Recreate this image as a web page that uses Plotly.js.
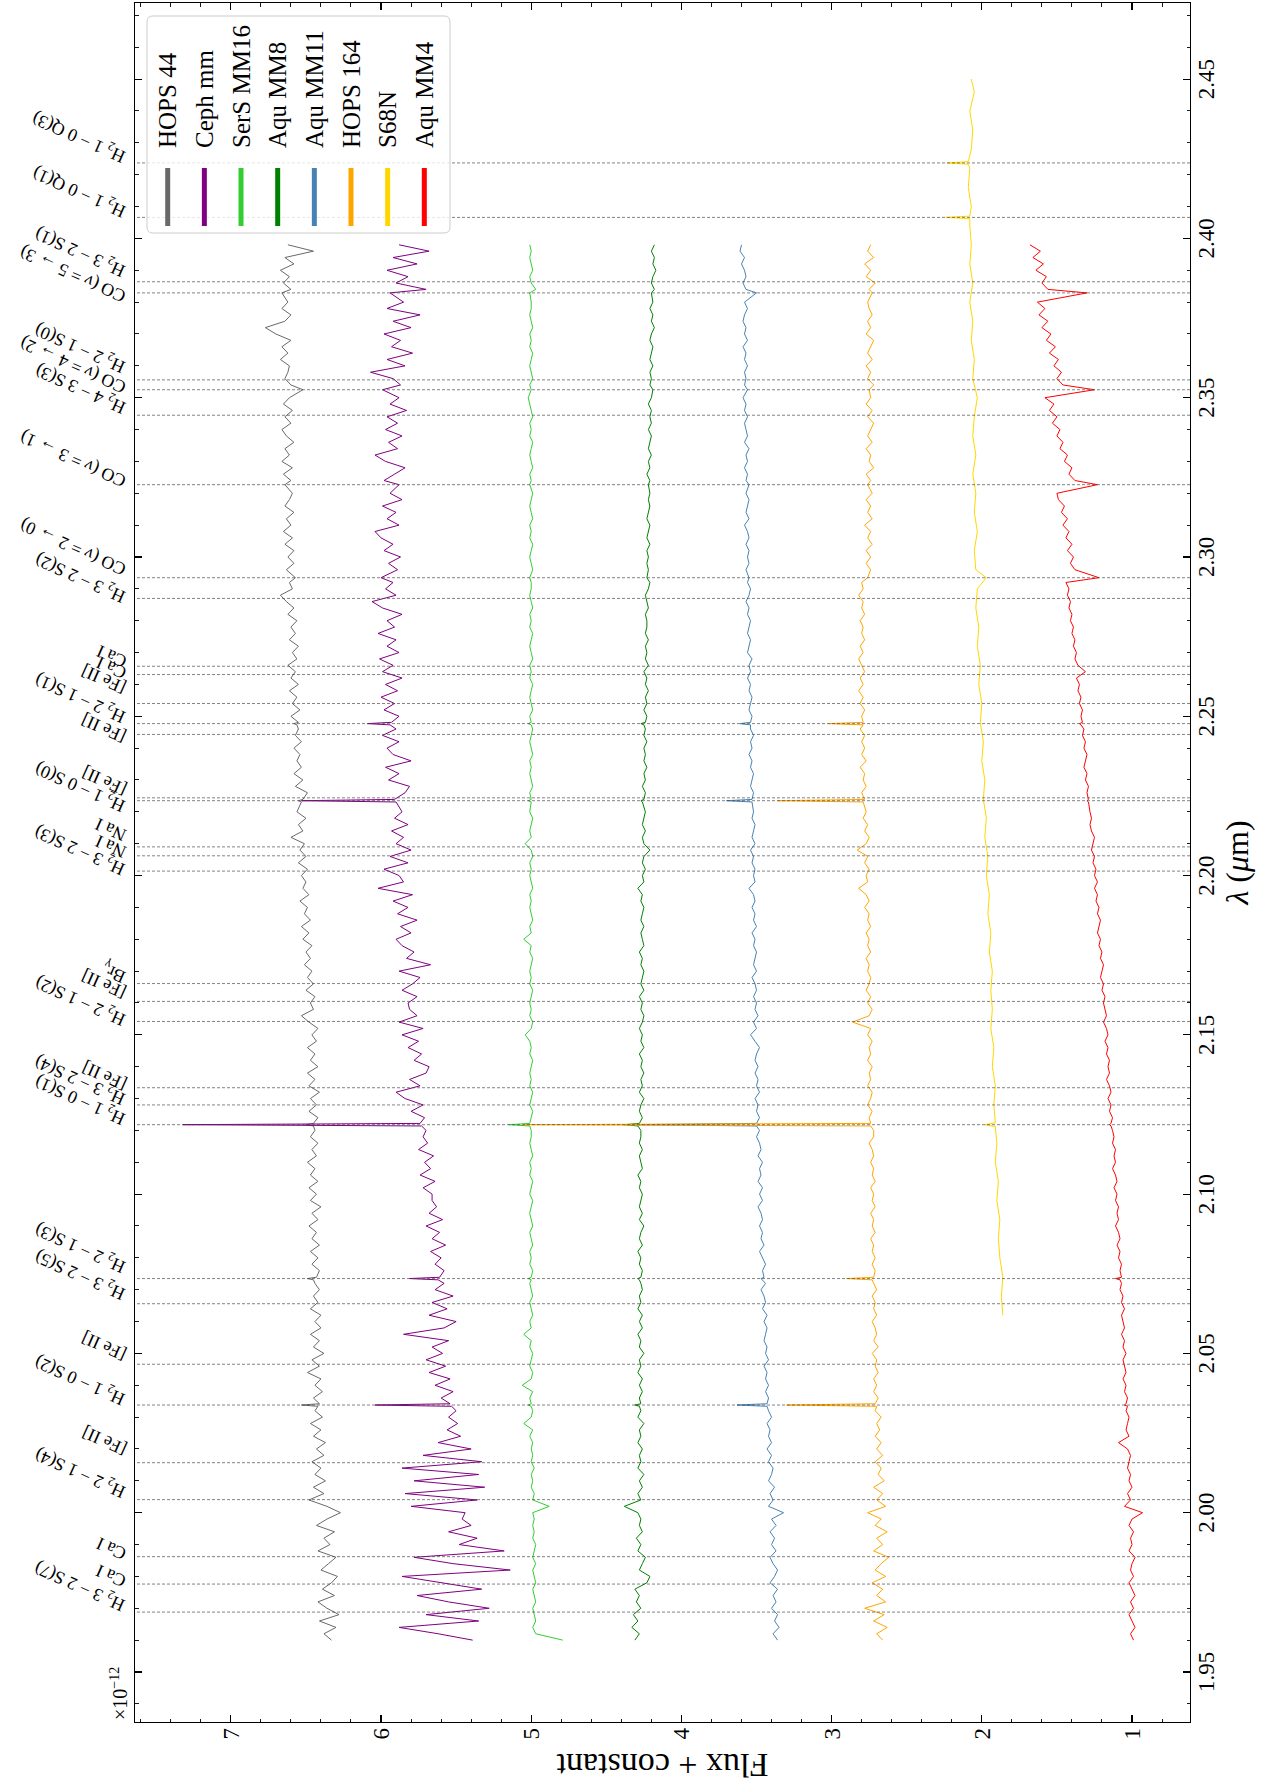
<!DOCTYPE html>
<html><head><meta charset="utf-8">
<script src="https://cdn.plot.ly/plotly-3.0.1.min.js"></script>
<style>
html,body{margin:0;padding:0;width:1271px;height:1784px;overflow:hidden;background:#fff;}
#wrap{position:absolute;left:0;top:0;width:1784px;height:1271px;transform-origin:0 0;transform:translateY(1784px) rotate(-90deg);}
#chart{width:1784px;height:1271px;}
</style></head><body>
<div id="wrap"><div id="chart"></div></div>
<script>
// ---- wavelength grid (micron) shared by seven spectra ----
const waveFine = [
 1.960,1.962,1.964,1.966,1.968,1.970,1.972,1.974,1.976,1.978,
 1.980,1.982,1.984,1.986,1.988,1.990,1.992,1.994,1.996,1.998,
 2.000,2.002,2.004,2.006,2.008,2.010,2.012,2.014,2.016,2.018,
 2.020,2.022,2.024,2.026,2.028,2.030,2.032,2.0334,2.0338,2.0342,2.036,2.038,
 2.040,2.042,2.044,2.046,2.048,2.050,2.052,2.054,2.056,2.058,
 2.060,2.062,2.064,2.066,2.068,2.070,2.072,2.0731,2.0735,2.0739,2.076,2.078,
 2.080,2.082,2.084,2.086,2.088,2.090,2.092,2.094,2.096,2.098,
 2.100,2.102,2.104,2.106,2.108,2.110,2.112,2.114,2.116,2.118,
 2.120,2.1214,2.1218,2.1222,2.124,2.126,2.128,2.130,2.132,2.134,2.136,2.138,
 2.140,2.142,2.144,2.146,2.148,2.150,2.152,2.154,2.156,2.158,
 2.160,2.162,2.164,2.166,2.168,2.170,2.172,2.174,2.176,2.178,
 2.180,2.182,2.184,2.186,2.188,2.190,2.192,2.194,2.196,2.198,
 2.200,2.202,2.204,2.206,2.208,2.210,2.212,2.214,2.216,2.218,
 2.220,2.2231,2.2235,2.2239,2.226,2.228,2.230,2.232,2.234,2.236,2.238,
 2.240,2.242,2.244,2.246,2.2473,2.2477,2.2481,2.250,2.252,2.254,2.256,2.258,
 2.260,2.262,2.264,2.266,2.268,2.270,2.272,2.274,2.276,2.278,
 2.280,2.282,2.284,2.286,2.288,2.290,2.292,2.2935,2.296,2.298,
 2.300,2.302,2.304,2.306,2.308,2.310,2.312,2.314,2.316,2.318,
 2.320,2.3227,2.324,2.326,2.328,2.330,2.332,2.334,2.336,2.338,
 2.340,2.342,2.344,2.346,2.348,2.350,2.3525,2.354,2.356,2.358,
 2.360,2.362,2.364,2.366,2.368,2.370,2.372,2.374,2.376,2.378,
 2.380,2.3829,2.384,2.386,2.388,2.390,2.392,2.394,2.396,2.398
];
const fluxHops44 = [
 6.33,6.38,6.30,6.41,6.28,6.36,6.42,6.31,6.39,6.33,
 6.29,6.40,6.35,6.30,6.42,6.34,6.38,6.31,6.43,6.36,
 6.27,6.36,6.48,6.38,6.45,6.37,6.44,6.40,6.46,6.38,
 6.43,6.37,6.45,6.40,6.47,6.39,6.44,6.42,6.53,6.41,6.45,6.39,
 6.44,6.40,6.49,6.41,6.46,6.38,6.45,6.41,6.47,6.40,
 6.44,6.40,6.47,6.42,6.45,6.41,6.44,6.45,6.49,6.43,6.41,6.46,
 6.42,6.47,6.41,6.46,6.43,6.48,6.42,6.46,6.40,6.47,
 6.43,6.48,6.42,6.47,6.44,6.49,6.43,6.46,6.42,6.47,
 6.44,6.45,6.50,6.45,6.42,6.48,6.43,6.47,6.41,6.48,6.44,6.49,
 6.42,6.47,6.44,6.49,6.43,6.46,6.42,6.48,6.53,6.45,
 6.47,6.44,6.50,6.45,6.49,6.46,6.51,6.47,6.50,6.46,
 6.52,6.48,6.53,6.47,6.51,6.49,6.54,6.48,6.52,6.50,
 6.53,6.49,6.55,6.50,6.54,6.51,6.60,6.52,6.55,6.50,
 6.56,6.53,6.55,6.52,6.49,6.57,6.52,6.58,6.53,6.56,6.54,
 6.58,6.53,6.57,6.55,6.56,6.58,6.55,6.60,6.54,6.59,6.56,6.61,
 6.55,6.60,6.57,6.62,6.56,6.59,6.55,6.61,6.57,6.60,
 6.56,6.62,6.58,6.63,6.67,6.59,6.61,6.57,6.63,6.58,
 6.62,6.58,6.64,6.59,6.65,6.60,6.63,6.58,6.64,6.61,
 6.59,6.64,6.60,6.65,6.59,6.66,6.61,6.64,6.58,6.63,
 6.66,6.60,6.64,6.59,6.65,6.61,6.52,6.60,6.64,6.62,
 6.61,6.67,6.62,6.66,6.60,6.70,6.77,6.64,6.60,6.66,
 6.62,6.66,6.60,6.65,6.61,6.67,6.58,6.64,6.45,6.62
];
const fluxCephMM = [
 5.39,5.62,5.88,5.35,5.70,5.28,5.55,5.76,5.33,5.60,
 5.86,5.14,5.52,5.78,5.18,5.48,5.36,5.55,5.40,5.46,
 5.44,5.80,5.36,5.84,5.31,5.78,5.35,5.86,5.33,5.72,
 5.40,5.62,5.47,5.56,5.49,5.55,5.50,5.53,6.04,5.54,5.60,5.52,
 5.64,5.54,5.68,5.57,5.70,5.59,5.66,5.55,5.85,5.58,
 5.50,5.68,5.56,5.66,5.52,5.64,5.58,5.62,5.81,5.61,5.58,5.64,
 5.60,5.67,5.57,5.66,5.61,5.70,5.59,5.68,5.63,5.66,
 5.66,5.72,5.64,5.74,5.67,5.71,5.65,5.75,5.69,5.72,
 5.70,5.73,7.32,5.74,5.71,5.80,5.72,5.84,5.90,5.74,5.81,5.70,
 5.68,5.78,5.73,5.82,5.75,5.86,5.72,5.88,5.76,5.81,
 5.82,5.76,5.86,5.79,5.74,5.88,5.67,5.83,5.78,5.86,
 5.90,5.80,5.87,5.76,5.89,5.82,5.92,5.79,6.02,5.85,
 5.88,5.98,5.82,5.94,5.80,5.90,5.85,5.93,5.82,5.91,
 5.86,5.90,6.53,5.91,5.84,5.81,5.95,5.88,5.97,5.80,5.92,
 5.96,5.88,5.99,5.90,5.94,6.09,5.93,5.88,5.98,5.91,6.00,5.89,
 5.97,5.86,5.99,5.92,6.01,5.88,5.96,5.90,6.02,5.91,
 5.96,5.86,5.99,6.06,5.90,5.97,5.92,6.00,5.89,5.95,
 5.87,5.98,5.92,6.00,6.04,5.88,5.96,5.90,5.99,5.86,
 5.94,5.88,5.98,5.91,5.84,5.97,6.04,5.89,5.95,5.86,
 5.97,5.89,5.96,5.83,5.94,5.88,5.99,5.87,5.92,6.07,
 5.84,5.96,5.79,5.93,5.87,5.98,5.80,5.92,5.74,5.96,
 5.85,5.94,5.70,5.90,5.82,5.96,5.76,5.92,5.68,5.88
];
const fluxSerSMM16 = [
 4.79,4.97,4.99,4.97,4.98,4.99,4.97,4.98,4.99,4.97,
 4.98,4.99,4.97,4.99,4.98,4.97,4.99,4.98,4.99,4.98,
 4.99,4.88,4.99,4.98,5.00,4.99,5.00,4.98,5.00,4.99,
 5.00,4.99,5.01,4.99,5.05,5.00,4.99,5.00,5.02,5.00,5.01,4.99,
 5.06,5.00,4.99,5.01,5.00,4.99,5.01,5.00,5.05,5.00,
 5.01,4.99,5.00,5.01,4.99,5.00,5.01,5.00,5.02,5.00,4.99,5.01,
 5.00,5.01,4.99,5.00,5.01,4.99,5.00,5.01,5.00,4.99,
 5.01,5.00,4.99,5.01,5.00,5.01,4.99,5.00,5.01,5.00,
 5.00,5.01,5.15,5.01,5.00,4.99,5.01,5.00,4.99,5.01,5.00,5.01,
 5.00,4.99,5.01,5.00,5.01,5.04,5.00,4.99,5.01,5.00,
 5.01,5.00,4.99,5.01,5.00,5.01,5.00,4.99,5.01,5.00,
 5.05,5.00,5.01,4.99,5.00,5.01,5.00,5.01,4.99,5.00,
 5.01,5.00,5.01,4.99,5.00,5.04,5.00,5.01,5.00,4.99,
 5.01,5.00,5.02,5.00,5.01,4.99,5.00,5.01,5.00,5.01,4.99,
 5.00,5.01,5.00,4.99,5.00,5.02,5.00,5.01,4.99,5.00,5.01,5.00,
 4.99,5.01,5.00,5.01,4.99,5.00,5.01,5.00,4.99,5.01,
 5.00,5.01,4.99,5.00,5.01,5.00,5.00,5.01,4.99,5.00,
 5.01,5.00,4.99,5.01,5.00,5.01,4.99,5.00,5.01,5.00,
 4.99,5.01,5.00,5.01,4.99,5.00,5.01,5.00,4.99,5.01,
 5.00,5.01,4.99,5.00,5.01,5.02,5.00,5.01,4.99,5.00,
 5.01,5.00,4.99,5.01,5.00,5.01,4.99,5.00,5.01,5.00,
 5.00,5.01,4.97,5.00,5.01,4.99,5.00,5.01,5.00,5.01
];
const fluxAquMM8 = [
 4.31,4.28,4.33,4.29,4.32,4.27,4.30,4.28,4.31,4.23,
 4.21,4.28,4.26,4.24,4.29,4.27,4.30,4.26,4.28,4.27,
 4.29,4.38,4.27,4.29,4.26,4.28,4.25,4.29,4.27,4.28,
 4.26,4.29,4.27,4.28,4.25,4.29,4.27,4.28,4.31,4.27,4.28,4.26,
 4.28,4.26,4.29,4.27,4.28,4.25,4.28,4.27,4.29,4.26,
 4.28,4.26,4.29,4.27,4.28,4.26,4.27,4.28,4.29,4.27,4.26,4.28,
 4.27,4.29,4.26,4.28,4.27,4.25,4.28,4.26,4.28,4.27,
 4.26,4.28,4.27,4.29,4.26,4.27,4.28,4.26,4.28,4.27,
 4.27,4.29,4.38,4.28,4.26,4.28,4.27,4.25,4.28,4.26,4.27,4.25,
 4.27,4.26,4.28,4.25,4.27,4.26,4.28,4.26,4.25,4.27,
 4.26,4.28,4.25,4.27,4.26,4.25,4.27,4.26,4.28,4.25,
 4.26,4.27,4.25,4.27,4.26,4.25,4.27,4.26,4.29,4.25,
 4.26,4.24,4.26,4.25,4.21,4.25,4.26,4.24,4.26,4.25,
 4.24,4.26,4.27,4.25,4.24,4.26,4.24,4.25,4.23,4.25,4.24,
 4.25,4.23,4.25,4.24,4.25,4.27,4.24,4.23,4.25,4.23,4.24,4.22,
 4.24,4.23,4.25,4.22,4.24,4.23,4.24,4.22,4.24,4.23,
 4.23,4.24,4.22,4.23,4.24,4.22,4.21,4.23,4.22,4.23,
 4.22,4.23,4.21,4.23,4.22,4.21,4.23,4.22,4.21,4.22,
 4.21,4.22,4.21,4.23,4.21,4.22,4.20,4.22,4.21,4.20,
 4.22,4.20,4.21,4.20,4.22,4.20,4.19,4.21,4.20,4.21,
 4.19,4.21,4.20,4.19,4.21,4.20,4.18,4.20,4.19,4.21,
 4.19,4.20,4.18,4.20,4.19,4.17,4.19,4.18,4.20,4.18
];
const fluxAquMM11 = [
 3.36,3.39,3.35,3.38,3.36,3.40,3.37,3.39,3.36,3.41,
 3.38,3.36,3.39,3.41,3.37,3.40,3.38,3.41,3.37,3.40,
 3.32,3.42,3.39,3.41,3.38,3.42,3.40,3.39,3.42,3.40,
 3.43,3.40,3.42,3.41,3.43,3.40,3.42,3.43,3.63,3.43,3.42,3.44,
 3.42,3.44,3.43,3.45,3.42,3.44,3.43,3.45,3.44,3.43,
 3.45,3.43,3.46,3.44,3.45,3.47,3.44,3.46,3.47,3.45,3.46,3.44,
 3.46,3.48,3.45,3.47,3.46,3.48,3.46,3.47,3.49,3.46,
 3.48,3.46,3.49,3.47,3.48,3.46,3.49,3.47,3.48,3.50,
 3.48,3.50,4.30,3.50,3.48,3.50,3.49,3.51,3.48,3.50,3.49,3.51,
 3.49,3.51,3.50,3.48,3.51,3.54,3.50,3.52,3.49,3.51,
 3.50,3.52,3.50,3.51,3.53,3.50,3.52,3.51,3.50,3.52,
 3.51,3.53,3.50,3.52,3.51,3.53,3.51,3.52,3.55,3.51,
 3.52,3.51,3.53,3.52,3.54,3.51,3.53,3.52,3.51,3.53,
 3.52,3.53,3.70,3.53,3.52,3.54,3.53,3.52,3.54,3.53,3.55,
 3.53,3.54,3.52,3.54,3.54,3.61,3.54,3.53,3.55,3.54,3.53,3.55,
 3.54,3.56,3.54,3.55,3.53,3.56,3.55,3.54,3.56,3.55,
 3.54,3.56,3.55,3.57,3.55,3.54,3.56,3.55,3.57,3.55,
 3.56,3.55,3.57,3.55,3.56,3.58,3.55,3.57,3.56,3.55,
 3.57,3.55,3.57,3.56,3.58,3.56,3.57,3.55,3.58,3.56,
 3.57,3.58,3.56,3.58,3.57,3.59,3.56,3.58,3.57,3.58,
 3.56,3.58,3.57,3.59,3.56,3.58,3.57,3.59,3.58,3.56,
 3.58,3.50,3.57,3.59,3.57,3.58,3.60,3.58,3.61,3.60
];
const fluxHops164 = [
 2.66,2.70,2.63,2.72,2.65,2.78,2.64,2.70,2.66,2.73,
 2.64,2.71,2.67,2.62,2.72,2.66,2.70,2.63,2.71,2.67,
 2.76,2.64,2.70,2.66,2.72,2.65,2.69,2.67,2.71,2.66,
 2.70,2.67,2.71,2.68,2.70,2.67,2.71,2.70,3.30,2.71,2.69,2.72,
 2.70,2.72,2.69,2.71,2.70,2.73,2.69,2.72,2.70,2.71,
 2.73,2.70,2.72,2.71,2.73,2.70,2.72,2.73,2.90,2.72,2.71,2.73,
 2.71,2.73,2.72,2.74,2.71,2.73,2.72,2.74,2.71,2.73,
 2.72,2.74,2.71,2.73,2.72,2.74,2.72,2.73,2.75,2.72,
 2.72,2.74,5.05,2.74,2.75,2.73,2.76,2.74,2.73,2.76,2.74,2.75,
 2.73,2.76,2.74,2.75,2.73,2.76,2.74,2.86,2.75,2.73,
 2.76,2.74,2.77,2.75,2.74,2.76,2.75,2.77,2.74,2.76,
 2.75,2.77,2.74,2.76,2.75,2.78,2.75,2.77,2.82,2.76,
 2.77,2.75,2.78,2.76,2.83,2.77,2.75,2.78,2.76,2.79,
 2.77,2.79,3.36,2.78,2.80,2.77,2.79,2.78,2.81,2.77,2.80,
 2.78,2.80,2.78,2.81,2.79,3.02,2.79,2.80,2.78,2.81,2.79,2.82,
 2.79,2.81,2.78,2.80,2.82,2.79,2.81,2.78,2.80,2.79,
 2.81,2.78,2.80,2.79,2.82,2.79,2.80,2.76,2.74,2.77,
 2.74,2.77,2.73,2.76,2.74,2.78,2.73,2.76,2.74,2.77,
 2.73,2.76,2.74,2.77,2.72,2.75,2.74,2.77,2.73,2.76,
 2.74,2.72,2.76,2.73,2.77,2.74,2.75,2.72,2.76,2.74,
 2.77,2.73,2.76,2.74,2.72,2.77,2.74,2.76,2.73,2.75,
 2.76,2.73,2.75,2.71,2.77,2.74,2.78,2.72,2.76,2.74
];
const fluxAquMM4 = [
 0.99,1.01,0.98,1.00,1.02,0.99,1.01,0.98,1.00,1.02,
 0.99,1.01,1.00,0.98,1.02,1.00,1.01,0.99,1.02,1.00,
 0.93,1.05,1.01,1.03,1.00,1.02,1.01,1.03,1.02,1.01,
 1.03,1.09,1.02,1.04,1.03,1.02,1.04,1.03,1.05,1.04,1.03,1.05,
 1.04,1.06,1.04,1.05,1.06,1.04,1.06,1.05,1.07,1.05,
 1.06,1.07,1.05,1.07,1.06,1.08,1.07,1.08,1.11,1.07,1.08,1.07,
 1.09,1.08,1.10,1.08,1.09,1.11,1.09,1.10,1.09,1.11,
 1.10,1.12,1.10,1.11,1.13,1.11,1.12,1.11,1.13,1.12,
 1.13,1.14,1.15,1.14,1.13,1.15,1.14,1.16,1.14,1.15,1.17,1.15,
 1.16,1.15,1.17,1.16,1.18,1.16,1.17,1.19,1.17,1.18,
 1.19,1.18,1.20,1.19,1.21,1.20,1.19,1.21,1.20,1.22,
 1.21,1.23,1.22,1.21,1.23,1.22,1.24,1.23,1.25,1.23,
 1.25,1.24,1.26,1.25,1.27,1.26,1.25,1.27,1.28,1.27,
 1.28,1.29,1.30,1.29,1.30,1.29,1.31,1.30,1.32,1.31,1.30,
 1.32,1.31,1.33,1.32,1.34,1.35,1.33,1.34,1.33,1.35,1.34,1.36,
 1.35,1.37,1.31,1.36,1.38,1.37,1.39,1.38,1.40,1.39,
 1.41,1.40,1.42,1.41,1.43,1.42,1.44,1.22,1.38,1.41,
 1.39,1.43,1.40,1.44,1.42,1.46,1.43,1.47,1.45,1.49,
 1.50,1.23,1.38,1.42,1.40,1.45,1.43,1.48,1.46,1.50,
 1.48,1.53,1.50,1.55,1.52,1.58,1.25,1.46,1.50,1.47,
 1.52,1.49,1.55,1.51,1.57,1.54,1.60,1.56,1.62,1.58,
 1.63,1.30,1.56,1.60,1.57,1.64,1.59,1.66,1.61,1.68
];
// ---- S68N has its own grid ----
const waveS68N = [
 2.062,2.068,2.074,2.080,2.086,2.092,2.098,2.104,2.110,2.116,
 2.1212,2.1218,2.1224,2.128,2.134,2.140,2.146,2.152,2.158,2.164,
 2.170,2.176,2.182,2.188,2.194,2.200,2.206,2.212,2.218,2.224,
 2.230,2.236,2.242,2.248,2.254,2.260,2.266,2.272,2.278,2.284,
 2.290,2.2935,2.296,2.302,2.308,2.314,2.320,2.326,2.332,2.338,
 2.344,2.350,2.356,2.362,2.368,2.374,2.380,2.386,2.392,2.398,
 2.404,2.4062,2.4066,2.4070,2.410,2.416,2.422,2.4233,2.4237,2.4241,
 2.428,2.434,2.440,2.446,2.450
];
const fluxS68N = [
 1.86,1.87,1.86,1.88,1.89,1.88,1.90,1.89,1.91,1.90,
 1.91,1.98,1.91,1.92,1.91,1.93,1.92,1.94,1.93,1.94,
 1.93,1.95,1.94,1.96,1.95,1.97,1.96,1.98,1.97,1.99,
 1.98,2.00,1.99,2.01,2.00,2.02,2.01,2.03,2.02,2.04,
 2.03,1.97,2.04,2.05,2.03,2.05,2.04,2.06,2.04,2.06,
 2.05,2.03,2.06,2.05,2.07,2.06,2.08,2.06,2.08,2.07,
 2.08,2.08,2.24,2.08,2.07,2.09,2.08,2.09,2.23,2.09,
 2.07,2.06,2.08,2.05,2.07
];
const seriesNames = ['HOPS 44','Ceph mm','SerS MM16','Aqu MM8','Aqu MM11','HOPS 164','S68N','Aqu MM4'];
const seriesColors = ['#696969','#800080','#32cd32','#008000','#4682b4','#ffa500','#ffd700','#ff0000'];
const seriesX = [waveFine, waveFine, waveFine, waveFine, waveFine, waveFine, waveS68N, waveFine];
const seriesY = [fluxHops44, fluxCephMM, fluxSerSMM16, fluxAquMM8, fluxAquMM11, fluxHops164, fluxS68N, fluxAquMM4];

// ---- spectral line markers ----
const lineWaves = [1.9688,1.9776,1.9862,2.0041,2.0157,2.0338,2.0466,2.0656,2.0735,2.1218,2.1280,2.1334,2.1542,2.1605,2.1661,2.2014,2.2062,2.2090,2.2235,2.2244,2.2443,2.2477,2.2540,2.2631,2.2657,2.2870,2.2935,2.3227,2.3445,2.3525,2.3556,2.3829,2.3864,2.4066,2.4237];
const H2 = 'H<sub>2</sub> ';
const lineLabels = [H2+'3 − 2 S(7)','Ca I','Ca I',H2+'2 − 1 S(4)','[Fe II]',H2+'1 − 0 S(2)','[Fe II]',H2+'3 − 2 S(5)',H2+'2 − 1 S(3)',H2+'1 − 0 S(1)',H2+'3 − 2 S(4)','[Fe II]',H2+'2 − 1 S(2)','[Fe II]','Br<sub>γ</sub>',H2+'3 − 2 S(3)','Na I','Na I',H2+'1 − 0 S(0)','[Fe II]','[Fe II]',H2+'2 − 1 S(1)','[Fe II]','Ca I','Ca I',H2+'3 − 2 S(2)','CO (<i>v</i> = 2 → 0)','CO (<i>v</i> = 3 → 1)',H2+'4 − 3 S(3)','CO (<i>v</i> = 4 → 2)',H2+'2 − 1 S(0)','CO (<i>v</i> = 5 → 3)',H2+'3 − 2 S(1)',H2+'1 − 0 Q(1)',H2+'1 − 0 Q(3)'];
// label nudges (px, layout only) so stacked labels do not collide, as in the original
const labelNudge = [7,3,3,8,14,6,10,10,12,6,6,4,2,9,7,2,4,12,-5,9,-2,7,16,2,5,2,8,3,8,2,13,-4,11,6,6];

const FONT = '"Liberation Serif", "DejaVu Serif", serif';
// plot-area geometry (px) used to place the hand-built legend
const PL=62, PT=135, PW=1719, PH=1055;
const fx = p => (p-PL)/PW;
const fy = p => 1-(p-PT)/PH;

const traces = seriesNames.map((n,i)=>({type:'scatter',mode:'lines',x:seriesX[i],y:seriesY[i],name:n,
  showlegend:false,line:{color:seriesColors[i],width:1},hoverinfo:'skip'}));

const shapes = lineWaves.map(w=>({type:'line',xref:'x',yref:'paper',x0:w,x1:w,y0:0,y1:1,
  line:{color:'rgba(70,70,70,0.75)',width:0.9,dash:'3px,2px'},layer:'above'}));

// legend frame (rounded, semi-transparent) like matplotlib
(function(){
  const x0=1551,x1=1768,y0=147,y1=450,r=6;
  const P=(x,y)=>fx(x).toFixed(5)+','+fy(y).toFixed(5);
  const path='M'+P(x0+r,y0)+' L'+P(x1-r,y0)+' Q'+P(x1,y0)+' '+P(x1,y0+r)+' L'+P(x1,y1-r)+' Q'+P(x1,y1)+' '+P(x1-r,y1)+
    ' L'+P(x0+r,y1)+' Q'+P(x0,y1)+' '+P(x0,y1-r)+' L'+P(x0,y0+r)+' Q'+P(x0,y0)+' '+P(x0+r,y0)+' Z';
  shapes.push({type:'path',xref:'paper',yref:'paper',path:path,fillcolor:'rgba(255,255,255,0.8)',
    line:{color:'#cccccc',width:1},layer:'above'});
})();
const annotations = lineWaves.map((w,i)=>({xref:'x',yref:'paper',x:w,y:1,text:lineLabels[i],
  showarrow:false,textangle:-66,xanchor:'left',yanchor:'bottom',xshift:-13+labelNudge[i],yshift:3,
  font:{family:FONT,size:18,color:'black'}}));
seriesNames.forEach((n,i)=>{
  const yc = 167.7 + 36.66*i;
  shapes.push({type:'line',xref:'paper',yref:'paper',x0:fx(1558),x1:fx(1616),y0:fy(yc),y1:fy(yc),
    line:{color:seriesColors[i],width:5},layer:'above'});
  annotations.push({xref:'paper',yref:'paper',x:fx(1636),y:fy(yc),xanchor:'left',yanchor:'middle',xshift:-2,
    showarrow:false,text:n,font:{family:FONT,size:25,color:'black'}});
});
annotations.push({xref:'paper',yref:'paper',x:0,y:1,xanchor:'left',yanchor:'bottom',xshift:0,yshift:2,
  showarrow:false,text:'×10<sup>−12</sup>',font:{family:FONT,size:20,color:'black'}});

const axisBase = {showline:true,linecolor:'black',linewidth:1.3,mirror:'allticks',ticks:'inside',
  ticklen:7,tickwidth:1.1,tickcolor:'black',showgrid:false,zeroline:false,
  tickfont:{family:FONT,size:23,color:'black'}};

const layout = {
  width:1784,height:1271,
  margin:{l:PL,r:3,t:PT,b:81},
  paper_bgcolor:'white',plot_bgcolor:'white',
  showlegend:false,
  xaxis:Object.assign({},axisBase,{range:[1.9343,2.4739],tick0:1.95,dtick:0.05,tickformat:'.2f',
    ticklabelstandoff:-5,
    minor:{ticks:'inside',ticklen:3.5,tickwidth:0.9,tickcolor:'black',dtick:0.01,showgrid:false},
    title:{text:'<i>λ</i> (<i>μ</i>m)',font:{family:FONT,size:32,color:'black'},standoff:4}}),
  yaxis:Object.assign({},axisBase,{range:[0.614,7.638],tick0:0,dtick:1,
    minor:{ticks:'inside',ticklen:3.5,tickwidth:0.9,tickcolor:'black',dtick:0.2,showgrid:false},
    title:{text:'Flux + constant',font:{family:FONT,size:34,color:'black'},standoff:6}}),
  shapes:shapes,
  annotations:annotations
};
Plotly.newPlot('chart',traces,layout,{staticPlot:true,displayModeBar:false});
</script>
</body></html>
